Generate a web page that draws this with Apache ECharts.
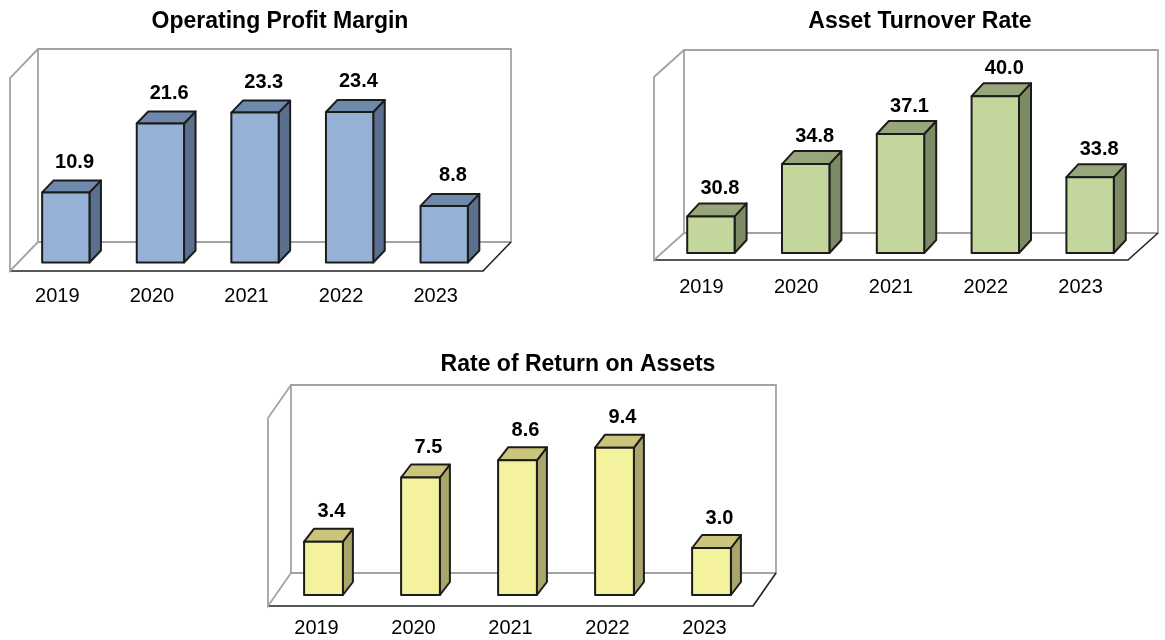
<!DOCTYPE html>
<html>
<head>
<meta charset="utf-8">
<script src="https://cdn.jsdelivr.net/npm/echarts@6/dist/echarts.min.js"></script>
<style>
html, body { margin: 0; padding: 0; background: #fff; }
#chart { width: 1165px; height: 640px; }
</style>
</head>
<body>
<div id="chart"></div>
<script>
var years = ['2019', '2020', '2021', '2022', '2023'];
var profitMargin = [10.9, 21.6, 23.3, 23.4, 8.8];
var assetTurnover = [30.8, 34.8, 37.1, 40.0, 33.8];
var returnOnAssets = [3.4, 7.5, 8.6, 9.4, 3.0];
// hidden value axis ranges (wall height = max)
var profitRange = [0, 30];
var turnoverRange = [28, 42];
var returnRange = [0, 12];

var FONT = '"Liberation Sans", Arial, sans-serif';

// layout and looks of the three panels
var panels = [{
	title: 'Operating Profit Margin',
	titlePos: [280, 22],
	grid: { left: 10, right: 682, top: 78, bottom: 369 },
	depth: [28, -29],
	shift: [8.5, -8.5],
	barDepth: [11.5, -12],
	barRatio: 0.5,
	colors: { front: '#95b1d5', top: '#6f89ad', side: '#5b6f8f' },
	labelGap: 18,
	axisMargin: 15,
	values: profitMargin,
	range: profitRange
}, {
	title: 'Asset Turnover Rate',
	titlePos: [920, 22],
	grid: { left: 654, right: 37, top: 77, bottom: 380 },
	depth: [30, -27],
	shift: [9.5, -7],
	barDepth: [12, -13],
	barRatio: 0.5,
	colors: { front: '#c3d69c', top: '#98a77b', side: '#7e8a64' },
	labelGap: 15,
	axisMargin: 17,
	values: assetTurnover,
	range: turnoverRange
}, {
	title: 'Rate of Return on Assets',
	titlePos: [578, 365],
	grid: { left: 268, right: 412, top: 418, bottom: 34 },
	depth: [23, -33],
	shift: [7, -11],
	barDepth: [10, -13],
	barRatio: 0.4,
	colors: { front: '#f5f29d', top: '#cac57a', side: '#aaa66b' },
	labelGap: 17,
	axisMargin: 12,
	values: returnOnAssets,
	range: returnRange
}];

function frameRenderer(p) {
	return function(params, api) {
		var cs = params.coordSys;
		var x = cs.x, y = cs.y, w = cs.width, h = cs.height;
		var dx = p.depth[0], dy = p.depth[1];
		var gray = { stroke: '#a3a3a3', lineWidth: 1.8, fill: null };
		var dark = { stroke: '#222', lineWidth: 1.6, fill: null };
		return {
			type: 'group',
			children: [
				// back wall
				{ type: 'polygon', shape: { points: [[x + dx, y + h + dy], [x + dx, y + dy], [x + w + dx, y + dy], [x + w + dx, y + h + dy]] }, style: gray },
				// left wall
				{ type: 'polyline', shape: { points: [[x + dx, y + h + dy], [x, y + h], [x, y], [x + dx, y + dy]] }, style: gray },
				// right edge of floor
				{ type: 'line', shape: { x1: x + w, y1: y + h, x2: x + w + dx, y2: y + h + dy }, style: dark }
			]
		};
	};
}

function barRenderer(p) {
	return function(params, api) {
		var cat = api.value(0);
		var val = api.value(1);
		var top = api.coord([cat, val]);
		var base = api.coord([cat, p.range[0]]);
		var w = api.size([1, 0])[0] * p.barRatio;
		var dx = p.barDepth[0], dy = p.barDepth[1];
		var x0 = top[0] - w / 2 + p.shift[0];
		var x1 = x0 + w;
		var yt = top[1] + p.shift[1];
		var yb = base[1] + p.shift[1];
		var edge = { stroke: '#1c1c1c', lineWidth: 2, lineJoin: 'round' };
		return {
			type: 'group',
			children: [{
				type: 'polygon',
				shape: { points: [[x1, yt], [x1 + dx, yt + dy], [x1 + dx, yb + dy], [x1, yb]] },
				style: Object.assign({ fill: p.colors.side }, edge)
			}, {
				type: 'polygon',
				shape: { points: [[x0, yt], [x1, yt], [x1 + dx, yt + dy], [x0 + dx, yt + dy]] },
				style: Object.assign({ fill: p.colors.top }, edge)
			}, {
				type: 'rect',
				shape: { x: x0, y: yt, width: w, height: yb - yt },
				style: Object.assign({ fill: p.colors.front }, edge)
			}, {
				type: 'text',
				style: {
					text: val.toFixed(1),
					x: (x0 + x1 + dx) / 2 + 3,
					y: yt + dy - p.labelGap,
					align: 'center',
					verticalAlign: 'middle',
					fill: '#000',
					font: 'bold 20px ' + FONT
				}
			}]
		};
	};
}

var myChart = echarts.init(document.getElementById('chart'));

var option = {
	backgroundColor: '#fff',
	animation: false,
	graphic: panels.map(function(p) {
		return {
			type: 'text',
			x: p.titlePos[0],
			y: p.titlePos[1],
			style: {
				text: p.title,
				align: 'center',
				verticalAlign: 'middle',
				fill: '#000',
				font: 'bold 23px ' + FONT
			}
		};
	}),
	grid: panels.map(function(p) { return p.grid; }),
	xAxis: panels.map(function(p, i) {
		return {
			type: 'category',
			gridIndex: i,
			data: years,
			axisLine: { onZero: false, lineStyle: { color: '#222', width: 1.6 } },
			axisTick: { length: 7, lineStyle: { color: '#222', width: 1 } },
			axisLabel: { margin: p.axisMargin, color: '#000', fontSize: 20, fontFamily: FONT },
			splitLine: { show: false }
		};
	}),
	yAxis: panels.map(function(p, i) {
		return {
			type: 'value',
			gridIndex: i,
			min: p.range[0],
			max: p.range[1],
			show: false,
			splitLine: { show: false }
		};
	}),
	series: []
};

panels.forEach(function(p, i) {
	option.series.push({
		type: 'custom',
		xAxisIndex: i,
		yAxisIndex: i,
		z: 1,
		silent: true,
		clip: false,
		renderItem: frameRenderer(p),
		data: [[0, p.range[0]]]
	});
	option.series.push({
		type: 'custom',
		xAxisIndex: i,
		yAxisIndex: i,
		z: 3,
		clip: false,
		renderItem: barRenderer(p),
		data: p.values.map(function(v, k) { return [k, v]; })
	});
});

myChart.setOption(option);
</script>
</body>
</html>
